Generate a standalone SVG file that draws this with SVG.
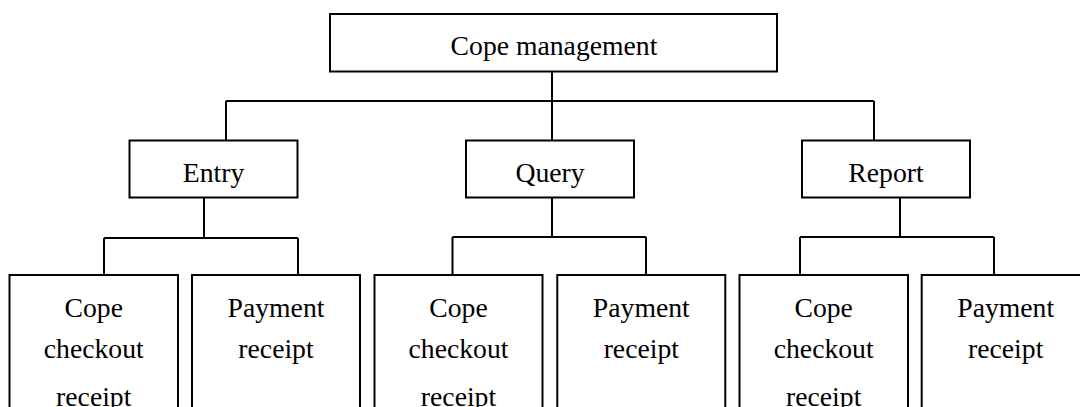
<svg xmlns="http://www.w3.org/2000/svg" width="1080" height="407" viewBox="0 0 1080 407">
<style>
.box{fill:#fff;stroke:#000;stroke-width:2}
.ln{fill:none;stroke:#000;stroke-width:2}
text{font-family:"Liberation Serif","Times New Roman",serif;font-size:27.7px;fill:#000;text-anchor:middle}
</style>
<rect width="1080" height="407" fill="#fff"/>
<g id="connectors">
<path class="ln" d="M552 71.5V140M226 101H874M226 101V140.5M874 101V140.5"/>
<path class="ln" d="M204 197.5V238M104 238H298M104 238V275M298 238V275"/>
<path class="ln" d="M552 197.5V237M452.5 237H646M452.5 237V275M646 237V275"/>
<path class="ln" d="M900 197.5V237M800 237H994M800 237V275M994 237V275"/>
</g>
<g id="root"><rect class="box" x="330" y="14" width="447" height="57.5"/><text x="554" y="55">Cope management</text></g>
<g id="entry"><rect class="box" x="129.5" y="140.5" width="168" height="57"/><text x="213.5" y="182.3">Entry</text></g>
<g id="query"><rect class="box" x="466" y="140.5" width="168" height="57"/><text x="550" y="182.3">Query</text></g>
<g id="report"><rect class="box" x="802" y="140.5" width="168" height="57"/><text x="886" y="182.3">Report</text></g>
<g id="entry-cope"><rect class="box" x="9.5" y="275" width="168.5" height="160"/><text x="93.75" y="316.7">Cope</text><text x="93.75" y="358.3">checkout</text><text x="93.75" y="405.5">receipt</text></g>
<g id="entry-payment"><rect class="box" x="192" y="275" width="168" height="160"/><text x="276" y="316.7">Payment</text><text x="276" y="358.3">receipt</text></g>
<g id="query-cope"><rect class="box" x="374.5" y="275" width="168" height="160"/><text x="458.5" y="316.7">Cope</text><text x="458.5" y="358.3">checkout</text><text x="458.5" y="405.5">receipt</text></g>
<g id="query-payment"><rect class="box" x="557.3" y="275" width="168" height="160"/><text x="641.3" y="316.7">Payment</text><text x="641.3" y="358.3">receipt</text></g>
<g id="report-cope"><rect class="box" x="739.5" y="275" width="168.5" height="160"/><text x="823.7" y="316.7">Cope</text><text x="823.7" y="358.3">checkout</text><text x="823.7" y="405.5">receipt</text></g>
<g id="report-payment"><rect class="box" x="921.7" y="275" width="168" height="160"/><text x="1005.7" y="316.7">Payment</text><text x="1005.7" y="358.3">receipt</text></g>
</svg>
